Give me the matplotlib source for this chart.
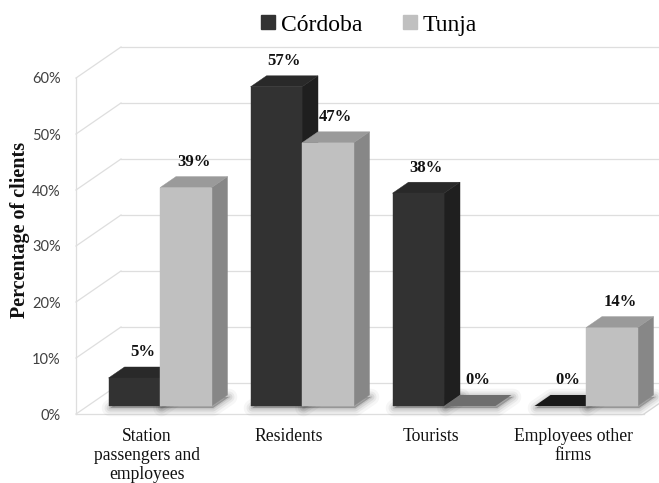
import matplotlib
matplotlib.use("Agg")
import matplotlib.pyplot as plt
import matplotlib.transforms as mtransforms
from matplotlib.patches import Polygon
from matplotlib.lines import Line2D
from matplotlib.font_manager import FontProperties

# ---- data -------------------------------------------------------------
categories = ["Station\npassengers and\nemployees", "Residents", "Tourists",
              "Employees other\nfirms"]
series_names = ["Córdoba", "Tunja"]
cordoba = [5, 57, 38, 0]
tunja = [39, 47, 0, 14]
yticks = [0, 10, 20, 30, 40, 50, 60]
ytick_labels = ["0%", "10%", "20%", "30%", "40%", "50%", "60%"]

# ---- styling ----------------------------------------------------------
SERIF = ["Liberation Serif", "DejaVu Serif"]
SANS = ["Lato", "DejaVu Sans"]
face_colors = {
    "Córdoba": dict(front="#323232", side="#1f1f1f", top="#292929", flat="#191919"),
    "Tunja": dict(front="#c0c0c0", side="#878787", top="#9a9a9a", flat="#6e6e6e"),
}
grid_color = "#dedede"

W, H = 659, 483
fig = plt.figure(figsize=(W / 100, H / 100), dpi=100)

# pixel scale of the value axis and category axis
PX_PER_CAT = 142.0
PX_PER_PCT = 5.6
left_px, bottom_px = 76, 69
ax = fig.add_axes([left_px / W, bottom_px / H, (W - left_px) / W,
                   (H - bottom_px - 47) / H])
ax.set_xlim(-0.5, -0.5 + (W - left_px) / PX_PER_CAT)
ax.set_ylim(0, (H - bottom_px - 47) / PX_PER_PCT)

# oblique depth vector of the 3-D box (data units)
DX = 45 / PX_PER_CAT
DY = 31 / PX_PER_PCT
F1, F2 = 0.258, 0.613          # bar front / back depth fractions
BW = 51.5 / PX_PER_CAT         # bar width
x_lo, x_hi = -0.5, len(categories) - 0.5

# ---- walls and floor --------------------------------------------------
line_kw = dict(color=grid_color, lw=0.9, clip_on=False, zorder=1)
for v in yticks:
    ax.plot([x_lo, x_lo + DX], [v, v + DY], **line_kw)
    ax.plot([x_lo + DX, x_hi + DX + 0.2], [v + DY, v + DY], **line_kw)
ax.plot([x_lo, x_lo], [0, yticks[-1]], **line_kw)
ax.plot([x_lo, x_hi], [0, 0], **line_kw)
ax.plot([x_hi, x_hi + DX], [0, DY], **line_kw)

# ---- bars -------------------------------------------------------------
shadow_tf = mtransforms.offset_copy(ax.transData, fig, x=1.5, y=-2.0, units="dots")


def draw_bar(x0, v, colors):
    x1 = x0 + BW
    f1x, f1y = F1 * DX, F1 * DY
    f2x, f2y = F2 * DX, F2 * DY
    foot = [(x0 + f1x, f1y), (x1 + f1x, f1y), (x1 + f2x, f2y), (x0 + f2x, f2y)]
    for lw, a in [(12, 0.035), (8, 0.05), (5, 0.07), (2, 0.09)]:
        ax.add_patch(Polygon(foot, closed=True, fc="black", ec="black", lw=lw,
                             alpha=a, joinstyle="round", transform=shadow_tf,
                             clip_on=False, zorder=2))
    top = [(x0 + f1x, v + f1y), (x1 + f1x, v + f1y),
           (x1 + f2x, v + f2y), (x0 + f2x, v + f2y)]
    if v == 0:
        ax.add_patch(Polygon(top, closed=True, fc=colors["flat"], ec="none",
                             clip_on=False, zorder=3))
        return
    front = [(x0 + f1x, f1y), (x1 + f1x, f1y), (x1 + f1x, v + f1y), (x0 + f1x, v + f1y)]
    side = [(x1 + f1x, f1y), (x1 + f2x, f2y), (x1 + f2x, v + f2y), (x1 + f1x, v + f1y)]
    for poly, c in [(side, colors["side"]), (top, colors["top"]), (front, colors["front"])]:
        ax.add_patch(Polygon(poly, closed=True, fc=c, ec=c, lw=0.3,
                             clip_on=False, zorder=3))


label_kw = dict(textcoords="offset points", ha="center", va="center",
                family=SERIF, fontweight="bold", fontsize=12, color="#111111",
                zorder=5, annotation_clip=False)

for i in range(len(categories)):
    for s, (name, vals) in enumerate(zip(series_names, [cordoba, tunja])):
        v = vals[i]
        x0 = i - BW + s * BW + 0.01
        draw_bar(x0, v, face_colors[name])
        xc = x0 + BW / 2 + (F1 + F2) / 2 * DX
        ax.annotate(f"{v}%", xy=(xc, v + F2 * DY), xytext=(0, 10.5), **label_kw)

# ---- axes text --------------------------------------------------------
for sp in ax.spines.values():
    sp.set_visible(False)
ax.set_facecolor("none")
ax.set_xticks(range(len(categories)))
ax.set_xticklabels(categories, family=SERIF, fontsize=12.7, linespacing=1.17,
                   color="#111111")
ax.set_yticks(yticks)
ax.set_yticklabels(ytick_labels, family=SANS, fontsize=10.5, color="#404040")
ax.tick_params(axis="x", length=0, pad=10)
ax.tick_params(axis="y", length=0, pad=11)

fig.text(20.5 / W, 1 - 230 / H, "Percentage of clients", rotation=90,
         ha="center", va="center", family=SERIF, fontweight="bold",
         fontsize=14.5, color="#111111")

handles = [Line2D([], [], marker="s", ls="none", markersize=9.5,
                  color=face_colors[n]["front"]) for n in series_names]
fig.legend(handles, series_names, loc="center", bbox_to_anchor=(368 / W, 1 - 25 / H),
           ncol=2, frameon=False, prop=FontProperties(family=SERIF, size=17),
           handlelength=0.8, handletextpad=0.15, columnspacing=1.6,
           borderaxespad=0)

fig.savefig("out.png", dpi=100)
